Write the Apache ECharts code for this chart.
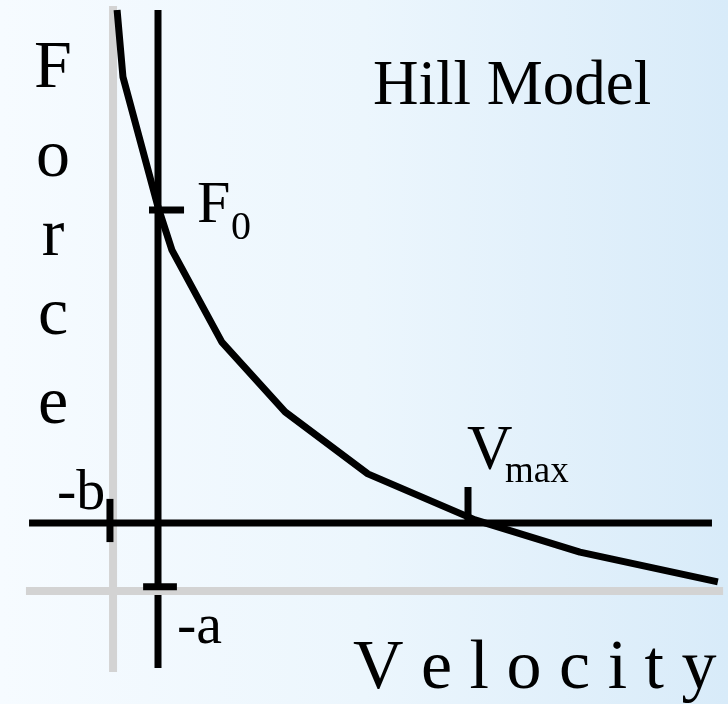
<!DOCTYPE html>
<html>
<head>
<meta charset="utf-8">
<title>Hill Model</title>
<script src="https://cdn.jsdelivr.net/npm/echarts@6/dist/echarts.min.js"></script>
<style>
  html, body { margin: 0; padding: 0; }
  #chart { width: 728px; height: 704px; }
</style>
</head>
<body>
<div id="chart"></div>
<script>
// curve (velocity, force), F0 = 100, Vmax = 100
const curveVelocity = [-13.2, -11.3, 0, 4.5, 20.6, 41.0, 67.7, 102.3, 136.1, 180.6];
const curveForce = [163.9, 142.5, 101, 87.2, 57.8, 35.5, 15.7, 1.0, -9.3, -18.8];

const F0 = 100;
const Vmax = 100;
const minusB = -14.5;   // vertical asymptote
const minusA = -21.7;   // horizontal asymptote
const minusBTick = -15.5;
const minusATick = -20.4;

const velocityAxisSpan = [-41.6, 178.7];
const forceAxisSpan = [-46.3, 163.9];
const bAsymptoteSpan = [-47.6, 165.2];
const aAsymptoteSpan = [-42.6, 182.3];
const f0TickSpan = [-2.9, 8.4];
const vmaxTickSpan = [0, 11.5];
const bTickSpan = [-6.1, 7.7];
const aTickSpan = [-4.8, 6.1];

const forceLetters = ['F', 'o', 'r', 'c', 'e'];

// layout: where the origin sits on the 728x704 canvas
const ORIGIN_X = 158, ORIGIN_Y = 523;
const PX_PER_V = 3.1, PX_PER_F = 3.13;
const W = 728, H = 704;

const chart = echarts.init(document.getElementById('chart'));

const BLACK = '#000000';
const GRAY = '#d3d3d3';
const SERIF = '"Liberation Serif", "Times New Roman", serif';

function seg(points, color, width) {
  return {
    type: 'line',
    data: points,
    symbol: 'none',
    silent: true,
    animation: false,
    lineStyle: { color: color, width: width, cap: 'butt' }
  };
}

// text y is given as a baseline; zrender draws with middle baseline
function label(text, x, baseline, size, align) {
  return {
    type: 'text',
    x: x,
    y: baseline - 0.285 * size,
    silent: true,
    style: {
      text: text,
      font: size + 'px ' + SERIF,
      fill: BLACK,
      align: align || 'left',
      verticalAlign: 'middle'
    }
  };
}

const forceBaselines = [89, 178, 257, 336, 425];
const graphics = forceLetters.map((ch, i) => label(ch, 53, forceBaselines[i], 68, 'center'));
graphics.push(
  label('Hill Model', 373, 105, 63),
  label('F', 197, 223, 60),
  label('0', 231, 240, 40),
  label('V', 467, 470, 63),
  label('max', 505, 483, 37),
  label('-b', 57, 510, 58),
  label('-a', 177, 644, 58),
  label('V e l o c i t y', 353, 690, 70)
);

const option = {
  animation: false,
  backgroundColor: new echarts.graphic.LinearGradient(0, 0, 1, 0, [
    { offset: 0, color: '#f6fbff' },
    { offset: 0.5, color: '#ecf6fd' },
    { offset: 1, color: '#d8ebf9' }
  ]),
  grid: { left: 0, right: 0, top: 0, bottom: 0 },
  xAxis: {
    type: 'value',
    show: false,
    min: -ORIGIN_X / PX_PER_V,
    max: (W - ORIGIN_X) / PX_PER_V,
    splitLine: { show: false }
  },
  yAxis: {
    type: 'value',
    show: false,
    min: -(H - ORIGIN_Y) / PX_PER_F,
    max: ORIGIN_Y / PX_PER_F,
    splitLine: { show: false }
  },
  series: [
    seg([[minusB, bAsymptoteSpan[0]], [minusB, bAsymptoteSpan[1]]], GRAY, 8),
    seg([[velocityAxisSpan[0], 0], [velocityAxisSpan[1], 0]], BLACK, 7),
    seg([[0, forceAxisSpan[0]], [0, forceAxisSpan[1]]], BLACK, 7),
    seg([[aAsymptoteSpan[0], minusA], [aAsymptoteSpan[1], minusA]], GRAY, 8),
    seg([[f0TickSpan[0], F0], [f0TickSpan[1], F0]], BLACK, 7),
    seg([[Vmax, vmaxTickSpan[0]], [Vmax, vmaxTickSpan[1]]], BLACK, 7),
    seg([[minusBTick, bTickSpan[0]], [minusBTick, bTickSpan[1]]], BLACK, 7),
    seg([[aTickSpan[0], minusATick], [aTickSpan[1], minusATick]], BLACK, 7),
    seg(curveVelocity.map((v, i) => [v, curveForce[i]]), BLACK, 7)
  ],
  graphic: graphics
};

chart.setOption(option);
</script>
</body>
</html>
